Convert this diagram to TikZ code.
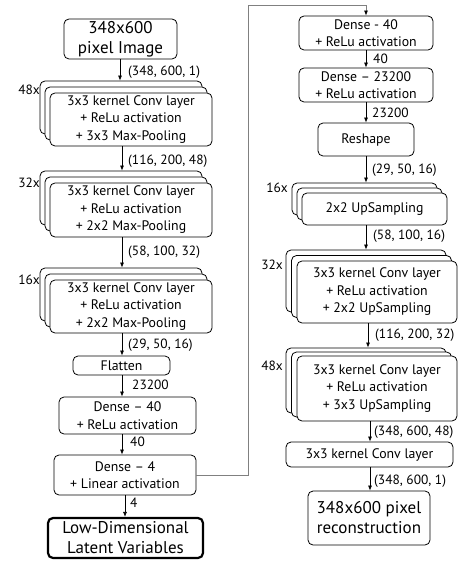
\documentclass[tikz,border=0pt]{standalone}
\usepackage{fontspec}
\setmainfont{PT Sans}
\usetikzlibrary{arrows.meta}
\begin{document}
\begin{tikzpicture}[x=1pt,y=-1pt,
 box/.style={draw, rounded corners=5pt, align=center, inner sep=0pt, fill=white, line width=0.8pt, font=\fontsize{13.8}{17.5}\selectfont},
 big/.style={font=\fontsize{17}{20}\selectfont},
 lab/.style={anchor=west, inner sep=0pt, font=\fontsize{13.4}{14}\selectfont},
 cnt/.style={anchor=east, inner sep=0pt, font=\fontsize{13.4}{14}\selectfont},
 arr/.style={-{Latex[length=5pt,width=4pt]}, line width=0.7pt},
 link/.style={draw=gray, line width=0.8pt, -{Latex[length=5pt,width=4pt,color=black]}},
]
\useasboundingbox (0,0) rectangle (461,561);
% arrow x positions
\coordinate (xa) at (120,0);
\coordinate (xb) at (122,0);
\coordinate (xc) at (125,0);
\coordinate (xr) at (366,0);
\coordinate (xs) at (368,0);
\coordinate (xt) at (370,0);
% ---------- left column ----------
\node[box, big, minimum width=113pt, minimum height=40pt] (in) at (120.5,39) {348x600\\pixel Image};

\node[box, minimum width=162pt, minimum height=53pt] (c1b1) at (121,107.5) {};
\node[box, minimum width=162pt, minimum height=53pt] (c1b2) at (126,113.5) {};
\node[box, minimum width=162pt, minimum height=53pt] (c1) at (131,119.5) {3x3 kernel Conv layer\\+ ReLu activation\\+ 3x3 Max-Pooling};
\node[cnt] (n1) at (40,90) {48x};

\node[box, minimum width=162pt, minimum height=54pt] (c2b1) at (121,198) {};
\node[box, minimum width=162pt, minimum height=54pt] (c2b2) at (126,204) {};
\node[box, minimum width=162pt, minimum height=54pt] (c2) at (131,210) {3x3 kernel Conv layer\\+ ReLu activation\\+ 2x2 Max-Pooling};
\node[cnt] (n2) at (40,183) {32x};

\node[box, minimum width=162pt, minimum height=53pt] (c3b1) at (121,294.5) {};
\node[box, minimum width=162pt, minimum height=53pt] (c3b2) at (126,300.5) {};
\node[box, minimum width=162pt, minimum height=53pt] (c3) at (131,306.5) {3x3 kernel Conv layer\\+ ReLu activation\\+ 2x2 Max-Pooling};
\node[cnt] (n3) at (40,280) {16x};

\node[box, minimum width=97pt, minimum height=19pt] (fl) at (121.5,365.5) {Flatten};
\node[box, minimum width=137pt, minimum height=37pt] (d40) at (127.5,415.5) {Dense – 40\\+ ReLu activation};
\node[box, minimum width=142pt, minimum height=40pt] (d4) at (125,475) {Dense – 4\\+ Linear activation};
\node[box, big, line width=2.2pt, minimum width=155pt, minimum height=40pt] (lat) at (125.5,538) {Low-Dimensional\\Latent Variables};

\draw[arr] (in.south -| xa) -- (c1b1.north -| xa);
\draw[arr] (c1.south -| xb) -- (c2b1.north -| xb);
\draw[arr] (c2.south -| xb) -- (c3b1.north -| xb);
\draw[arr] (c3.south -| xb) -- (fl.north -| xb);
\draw[arr] (fl.south -| xb) -- (d40.north -| xb);
\draw[arr] (d40.south -| xb) -- (d4.north -| xb);
\draw[arr] (d4.south -| xc) -- (lat.north -| xc);

\node[lab] (l1) at (128,72) {(348, 600, 1)};
\node[lab] (l2) at (128,161) {(116, 200, 48)};
\node[lab] (l3) at (128,252) {(58, 100, 32)};
\node[lab] (l4) at (128,345) {(29, 50, 16)};
\node[lab] (l5) at (132,385) {23200};
\node[lab] (l6) at (130,442) {40};
\node[lab] (l7) at (130,503) {4};

% ---------- right column ----------
\node[box, minimum width=134pt, minimum height=34pt] (rd40) at (366,33) {Dense - 40\\+ ReLu activation};
\node[box, minimum width=134pt, minimum height=34pt] (rd2) at (366,85) {Dense – 23200\\+ ReLu activation};
\node[box, minimum width=96pt, minimum height=33pt] (rs) at (366,139.5) {Reshape};

\node[box, minimum width=145pt, minimum height=32pt] (u1b1) at (364.5,199) {};
\node[box, minimum width=145pt, minimum height=32pt] (u1b2) at (369.5,204) {};
\node[box, minimum width=145pt, minimum height=32pt] (u1) at (374.5,209) {2x2 UpSampling};
\node[cnt] (n4) at (288,188) {16x};

\node[box, minimum width=160pt, minimum height=62pt] (u2b1) at (366,281) {};
\node[box, minimum width=160pt, minimum height=62pt] (u2b2) at (371.5,286.5) {};
\node[box, minimum width=160pt, minimum height=62pt] (u2) at (377,292) {3x3 kernel Conv layer\\+ ReLu activation\\+ 2x2 UpSampling};
\node[cnt] (n5) at (283,265) {32x};

\node[box, minimum width=160pt, minimum height=65pt] (u3b1) at (366,380.5) {};
\node[box, minimum width=160pt, minimum height=65pt] (u3b2) at (371.5,384.5) {};
\node[box, minimum width=160pt, minimum height=65pt] (u3) at (377,388.5) {3x3 kernel Conv layer\\+ ReLu activation\\+ 3x3 UpSampling};
\node[cnt] (n6) at (283,366) {48x};

\node[box, minimum width=167pt, minimum height=25pt] (cf) at (369.5,454.5) {3x3 kernel Conv layer};
\node[box, big, minimum width=122pt, minimum height=54pt] (out) at (369,518) {348x600 pixel\\reconstruction};

\draw[arr] (rd40.south -| xr) -- (rd2.north -| xr);
\draw[arr] (rd2.south -| xr) -- (rs.north -| xr);
\draw[arr] (rs.south -| xr) -- (u1b1.north -| xr);
\draw[arr] (u1.south -| xr) -- (u2b1.north -| xr);
\draw[arr] (u2.south -| xs) -- (u3b1.north -| xs);
\draw[arr] (u3.south -| xt) -- (cf.north -| xt);
\draw[arr] (cf.south -| xt) -- (out.north -| xt);

\node[lab] (r1) at (373,59) {40};
\node[lab] (r2) at (372,113) {23200};
\node[lab] (r3) at (372,170) {(29, 50, 16)};
\node[lab] (r4) at (373,236) {(58, 100, 16)};
\node[lab] (r5) at (375,335) {(116, 200, 32)};
\node[lab] (r6) at (374,432) {(348, 600, 48)};
\node[lab] (r7) at (374,481) {(348, 600, 1)};

% ---------- link ----------
\coordinate (t1) at (248,5);
\coordinate (t2) at (366,5);
\draw[link] (d4.east) -| (t1) -- (t2) -- (rd40.north);
\end{tikzpicture}
\end{document}
